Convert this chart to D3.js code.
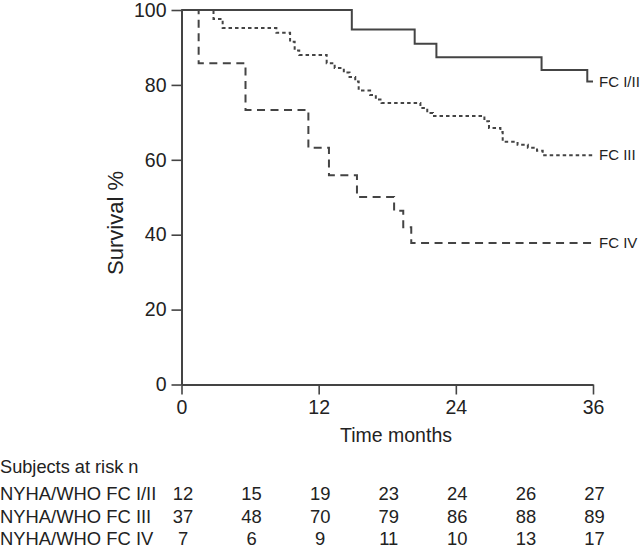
<!DOCTYPE html>
<html>
<head>
<meta charset="utf-8">
<script src="https://cdn.jsdelivr.net/npm/d3@7"></script>
<style>
  html, body { margin: 0; padding: 0; background: #fff; }
  svg { display: block; font-family: "Liberation Sans", Arial, Helvetica, sans-serif; }
</style>
</head>
<body>
<svg id="chart" width="640" height="559"></svg>
<script>
// ---- Data ----
const monthsI   = [0, 14.9, 20.4, 22.3, 31.5, 35.5, 36];
const survivalI = [100, 94.8, 91.0, 87.4, 84.0, 80.9, 80.9];

const monthsIII   = [0, 2.8, 3.6, 8.3, 9.5, 9.9, 10.3, 12.7, 13.4, 14.2, 14.7, 15.2, 15.5, 16.5, 17.0, 17.5, 20.9, 21.5, 22.0, 26.5, 26.9, 27.9, 28.1, 29.4, 30.3, 31.1, 31.6, 36];
const survivalIII = [100, 97.6, 95.2, 93.9, 91.5, 89.2, 88.0, 85.8, 84.5, 83.3, 82.1, 80.9, 78.5, 77.3, 76.1, 75.2, 73.8, 72.5, 71.7, 70.3, 68.5, 67.4, 64.8, 64.0, 63.2, 62.4, 61.2, 61.2];

const monthsIV   = [0, 1.5, 5.6, 11.1, 12.9, 15.35, 18.6, 19.4, 20.1, 36];
const survivalIV = [100, 85.8, 73.3, 63.2, 55.9, 50.1, 46.4, 42.0, 37.8, 37.8];

const seriesNames = ["FC I/II", "FC III", "FC IV"];

const xTicks = [0, 12, 24, 36];
const yTicks = [0, 20, 40, 60, 80, 100];

const atRiskMonths = [0, 6, 12, 18, 24, 30, 36];
const atRiskTitle = "Subjects at risk n";
const atRiskLabels = ["NYHA/WHO FC I/II", "NYHA/WHO FC III", "NYHA/WHO FC IV"];
const atRiskI   = [12, 15, 19, 23, 24, 26, 27];
const atRiskIII = [37, 48, 70, 79, 86, 88, 89];
const atRiskIV  = [7, 6, 9, 11, 10, 13, 17];

// ---- Layout ----
const ink = "#444";
const textColor = "#222";
const svg = d3.select("#chart");

const x = d3.scaleLinear().domain([0, 36]).range([181.5, 593]);
const y = d3.scaleLinear().domain([0, 100]).range([384.5, 10]);

// Axes
const xAxis = svg.append("g")
  .attr("transform", `translate(0,${y(0)})`)
  .call(d3.axisBottom(x).tickValues(xTicks).tickSize(10).tickSizeOuter(0).tickPadding(6));
const yAxis = svg.append("g")
  .attr("transform", `translate(${x(0)},0)`)
  .call(d3.axisLeft(y).tickValues(yTicks).tickSize(10).tickSizeOuter(0).tickPadding(5));

[xAxis, yAxis].forEach(g => {
  g.selectAll("path.domain").attr("stroke", ink).attr("stroke-width", 2);
  g.selectAll(".tick line").attr("stroke", ink).attr("stroke-width", 1.6);
  g.selectAll(".tick text").attr("fill", textColor).attr("font-size", 19.5)
    .attr("font-family", "Liberation Sans, Arial, sans-serif");
});

// Axis titles
svg.append("text")
  .attr("x", 396).attr("y", 442)
  .attr("text-anchor", "middle")
  .attr("font-size", 19.5).attr("fill", textColor)
  .text("Time months");

svg.append("text")
  .attr("transform", `translate(123,223) rotate(-90)`)
  .attr("text-anchor", "middle")
  .attr("font-size", 22).attr("fill", textColor)
  .text("Survival %");

// Curves
const series = [
  { name: seriesNames[0], m: monthsI,   s: survivalI,   dash: null },
  { name: seriesNames[1], m: monthsIII, s: survivalIII, dash: "3.5,3" },
  { name: seriesNames[2], m: monthsIV,  s: survivalIV,  dash: "8,5.5" }
];

const line = d3.line()
  .x(d => x(d[0]))
  .y(d => y(d[1]))
  .curve(d3.curveStepAfter);

series.forEach(sr => {
  const pts = sr.m.map((mm, i) => [mm, sr.s[i]]);
  svg.append("path")
    .datum(pts)
    .attr("d", line)
    .attr("fill", "none")
    .attr("stroke", ink)
    .attr("stroke-width", 2)
    .attr("stroke-dasharray", sr.dash);
  const last = pts[pts.length - 1];
  svg.append("text")
    .attr("x", x(last[0]) + 6)
    .attr("y", y(last[1]) + 5)
    .attr("font-size", 15).attr("fill", textColor)
    .text(sr.name);
});

// At-risk table
svg.append("text")
  .attr("x", 0).attr("y", 473)
  .attr("font-size", 18.2).attr("fill", textColor)
  .text(atRiskTitle);

const rows = [atRiskI, atRiskIII, atRiskIV];
const rowY = [500, 522.5, 544.5];
rows.forEach((vals, r) => {
  svg.append("text")
    .attr("x", 0).attr("y", rowY[r])
    .attr("font-size", 18.4).attr("fill", textColor)
    .text(atRiskLabels[r]);
  vals.forEach((v, i) => {
    svg.append("text")
      .attr("x", x(atRiskMonths[i]) + 1.5).attr("y", rowY[r])
      .attr("text-anchor", "middle")
      .attr("font-size", 18.4).attr("fill", textColor)
      .text(v);
  });
});
</script>
</body>
</html>
